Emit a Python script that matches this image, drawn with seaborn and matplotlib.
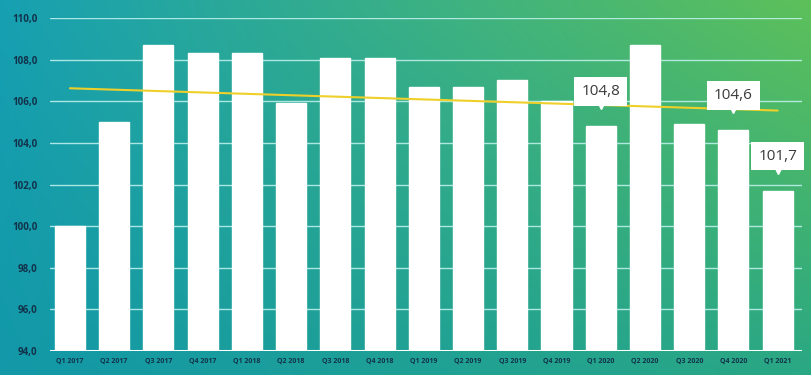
import numpy as np
import pandas as pd
import matplotlib
matplotlib.use("Agg")
import matplotlib.pyplot as plt
import seaborn as sns
from matplotlib.colors import to_rgb
from matplotlib.transforms import ScaledTranslation

quarters = ["Q1 2017", "Q2 2017", "Q3 2017", "Q4 2017", "Q1 2018", "Q2 2018",
            "Q3 2018", "Q4 2018", "Q1 2019", "Q2 2019", "Q3 2019", "Q4 2019",
            "Q1 2020", "Q2 2020", "Q3 2020", "Q4 2020", "Q1 2021"]
values = [100.0, 105.0, 108.7, 108.3, 108.3, 105.9, 108.1, 108.1, 106.7, 106.7,
          107.0, 106.0, 104.8, 108.7, 104.9, 104.6, 101.7]
annotated = ["Q1 2020", "Q4 2020", "Q1 2021"]
yticks = [94, 96, 98, 100, 102, 104, 106, 108, 110]

df = pd.DataFrame({"quarter": quarters, "value": values})

sns.set_theme(style="white")
plt.rcParams["font.family"] = ["Open Sans", "DejaVu Sans"]

fig = plt.figure(figsize=(8.11, 3.75), dpi=100)

# gradient background
bg = fig.add_axes([0, 0, 1, 1], zorder=0)
bg.axis("off")
H, W = 60, 120
tl, tr = np.array(to_rgb("#17a0b2")), np.array(to_rgb("#5dc05a"))
bl, br = np.array(to_rgb("#1298a8")), np.array(to_rgb("#2aa884"))
u = np.linspace(0, 1, W)[None, :, None]
v = np.linspace(0, 1, H)[:, None, None]
top = tl * (1 - u) + tr * u
bot = bl * (1 - u) + br * u
img = top * (1 - v) + bot * v
bg.imshow(np.clip(img, 0, 1), aspect="auto", extent=[0, 1, 0, 1], interpolation="bicubic")

ax = fig.add_axes([50 / 811, 1 - 351 / 375, (802 - 50) / 811, (351 - 18) / 375], zorder=1)
ax.patch.set_alpha(0)

sns.barplot(data=df, x="quarter", y="value", color="white", saturation=1,
            width=0.68, ax=ax, zorder=3)

ax.set_ylim(94, 110)
ax.set_xlim(-0.45, 16.55)
ax.set_yticks(yticks)
ax.set_yticklabels([f"{t:.1f}".replace(".", ",") for t in yticks])
for t in yticks:
    ax.axhline(t, color="#c4f4f0", lw=1.0, alpha=0.85, zorder=1)
ax.axhline(94, color="white", lw=2.2, zorder=4)

# trend line
x = np.arange(len(values))
k, b = np.polyfit(x, values, 1)
ax.plot(x, k * x + b, color="#efd02a", lw=1.5, zorder=5)

for s in ax.spines.values():
    s.set_visible(False)
ax.tick_params(axis="both", length=0)
ax.tick_params(axis="y", pad=9, labelsize=7, labelcolor="#12324a")
ax.tick_params(axis="x", pad=5, labelsize=5, labelcolor="#12324a")
for lab in ax.get_yticklabels() + ax.get_xticklabels():
    lab.set_fontweight("bold")
ax.set_xlabel("")
ax.set_ylabel("")

for q in annotated:
    i = quarters.index(q)
    val = values[i]
    ax.annotate(f"{val:.1f}".replace(".", ","), xy=(i, val), xytext=(0, 25),
                textcoords="offset points", ha="center", va="center",
                fontsize=11, fontweight="medium", color="#3a3a3a", zorder=6,
                bbox=dict(boxstyle="square,pad=0.45", fc="white", ec="none"))
    ax.plot([i], [val], marker="v", markersize=5, color="white",
            transform=ax.transData + ScaledTranslation(0, 14.5 / 72, fig.dpi_scale_trans),
            zorder=6, clip_on=False)

fig.savefig("out.png", dpi=100)
